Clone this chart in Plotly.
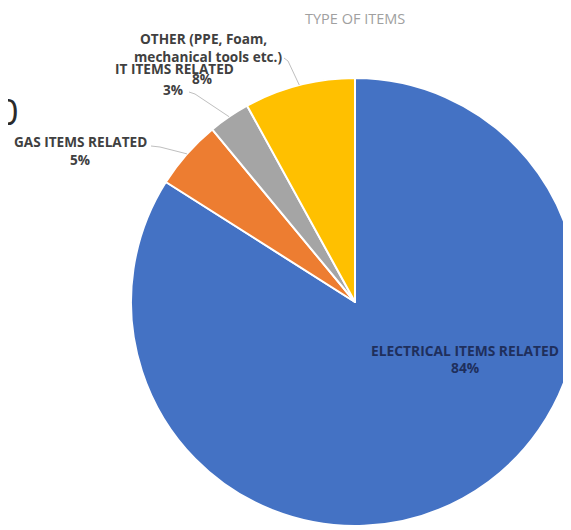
import math
import plotly.graph_objects as go

# ---- data ----
categories = ["ELECTRICAL ITEMS RELATED", "GAS ITEMS RELATED", "IT ITEMS RELATED",
              "OTHER (PPE, Foam, mechanical tools etc.)"]
label_lines = [["ELECTRICAL ITEMS RELATED"], ["GAS ITEMS RELATED"], ["IT ITEMS RELATED"],
               ["OTHER (PPE, Foam,", "mechanical tools etc.)"]]
values = [84, 5, 3, 8]
colors = ["#4472C4", "#ED7D31", "#A5A5A5", "#FFC000"]
title_text = "TYPE OF ITEMS"
edge_fragment = "0"

W, H = 571, 530
OFF = 8                     # page body margin offset of the plot div
CX, CY, R = 355, 302, 224   # pie geometry in on-screen pixels


def px(x):
    return (x - OFF) / W


def py(y):
    return 1 - (y - OFF) / H


fig = go.Figure()
fig.add_trace(go.Pie(
    labels=categories, values=values, sort=False, direction="clockwise", rotation=0,
    marker=dict(colors=colors, line=dict(color="white", width=2)),
    textinfo="none", hoverinfo="label+percent", showlegend=False,
    domain=dict(x=[px(CX - R), min(1.0, px(CX + R))], y=[py(CY + R), py(CY - R)]),
))

total = sum(values)
pcts = [f"{round(v / total * 100)}%" for v in values]

# slice mid-angle anchor points on the rim (for leader lines)
cum = 0
anchors = []
for v in values:
    mid = (cum + v / 2) / total * 2 * math.pi
    anchors.append((CX + R * math.sin(mid), CY - R * math.cos(mid)))
    cum += v

lab_font = dict(family="Open Sans", size=13.6, color="#404040")
annotations = []


def add_text(text, x, y, font):
    annotations.append(dict(text=f"<b>{text}</b>", x=px(x), y=py(y), xref="paper", yref="paper",
                            showarrow=False, xanchor="center", yanchor="middle", font=font))


# OTHER (8%) — percentage sits beneath the IT label
add_text(pcts[3], 202, 79, lab_font)
add_text(label_lines[3][0], 204, 39, lab_font)
add_text(label_lines[3][1], 208, 57, lab_font)
# IT
add_text(label_lines[2][0], 174, 69, lab_font)
add_text(pcts[2], 173, 90, lab_font)
# GAS
add_text(label_lines[1][0], 80, 142, lab_font)
add_text(pcts[1], 80, 160, lab_font)
# ELECTRICAL (inside)
el_font = dict(family="Open Sans", size=13.8, color="#1F2F5C")
add_text(label_lines[0][0], 465, 350, el_font)
add_text(pcts[0], 465, 367, el_font)

# title
annotations.append(dict(text=title_text, x=px(355), y=py(19), xref="paper", yref="paper",
                        showarrow=False, xanchor="center", yanchor="middle",
                        font=dict(family="Open Sans", size=14.5, color="#a0a0a0")))
# cut-off fragment at the left edge
annotations.append(dict(text=edge_fragment, x=0, y=py(111), xref="paper", yref="paper",
                        showarrow=False, xanchor="center", yanchor="middle",
                        font=dict(family="Open Sans", size=36, color="#2a2a2a")))

# leader lines
shapes = []
starts = {1: [(151, 146), (160, 147)], 2: [(189, 92), (195, 94)], 3: [(284, 58), (288, 61)]}
for i, pts in starts.items():
    ax, ay = anchors[i]
    allpts = pts + [(ax, ay)]
    path = "M " + " L ".join(f"{px(x)},{py(y)}" for x, y in allpts)
    shapes.append(dict(type="path", path=path, xref="paper", yref="paper",
                       line=dict(color="#BFBFBF", width=1)))

fig.update_layout(
    width=W, height=H, margin=dict(l=0, r=0, t=0, b=0),
    paper_bgcolor="white", plot_bgcolor="white",
    annotations=annotations, shapes=shapes,
)

fig.write_html("out.html")
